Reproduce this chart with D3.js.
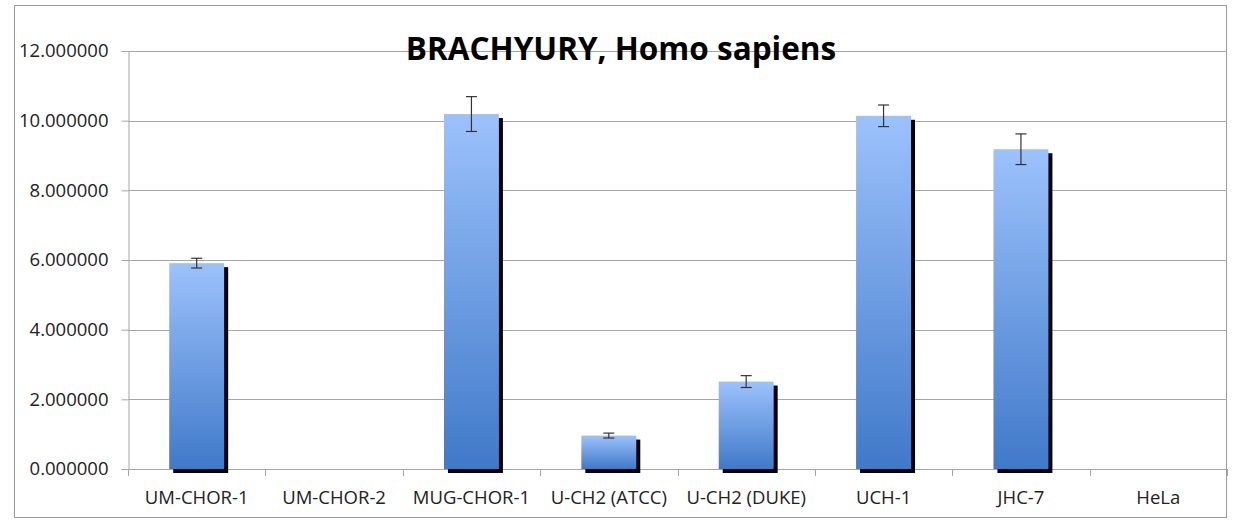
<!DOCTYPE html>
<html>
<head>
<meta charset="utf-8">
<script src="https://cdn.jsdelivr.net/npm/d3@7"></script>
<style>
  body { margin: 0; background: #fff; }
  text { font-family: "Open Sans", sans-serif; fill: #222; }
</style>
</head>
<body>
<div class="chart"></div>
<script>
// DATA
var categories = ['UM-CHOR-1', 'UM-CHOR-2', 'MUG-CHOR-1', 'U-CH2 (ATCC)', 'U-CH2 (DUKE)', 'UCH-1', 'JHC-7', 'HeLa']
var values = [5.91, 0, 10.19, 0.96, 2.51, 10.14, 9.18, 0]
var errors = [0.14, 0, 0.50, 0.07, 0.17, 0.31, 0.44, 0]
var yTicks = [0, 2, 4, 6, 8, 10, 12]
var title = 'BRACHYURY, Homo sapiens'

var W = 1233, H = 521

var svg = d3.select('.chart').append('svg')
    .attr('width', W)
    .attr('height', H)

// GRADIENT FOR BARS
var grad = svg.append('defs').append('linearGradient')
    .attr('id', 'barGrad')
    .attr('x1', 0).attr('y1', 0).attr('x2', 0).attr('y2', 1)
grad.append('stop').attr('offset', '0%').attr('stop-color', '#9cc2fc')
grad.append('stop').attr('offset', '100%').attr('stop-color', '#4079c9')

// OUTER BORDER
svg.append('rect')
    .attr('x', 14.5).attr('y', 5.5)
    .attr('width', 1212).attr('height', 512)
    .attr('fill', 'none')
    .attr('stroke', '#9a9a9a')

var x = d3.scaleBand()
    .domain(categories)
    .range([128, 1227])
    .paddingInner(0.6)
    .paddingOuter(0.3)

var y = d3.scaleLinear()
    .domain([0, 12])
    .range([469, 51])

var data = categories.map(function(c, i){ return {cat: c, val: values[i], err: errors[i]} })

// GRIDLINES
svg.append('g').selectAll('line')
    .data(yTicks.filter(function(t){ return t > 0 }))
    .enter().append('line')
    .attr('x1', 128).attr('x2', 1227)
    .attr('y1', function(d){ return Math.round(y(d)) + 0.5 })
    .attr('y2', function(d){ return Math.round(y(d)) + 0.5 })
    .attr('stroke', '#a6a6a6')

// TITLE (drawn over the top gridline)
svg.append('text')
    .attr('x', 621).attr('y', 60)
    .attr('text-anchor', 'middle')
    .style('font-size', '31.5px')
    .style('font-weight', 'bold')
    .style('fill', '#000')
    .text(title)

// Y AXIS
var yAxis = svg.append('g')
    .attr('transform', 'translate(128.5,0)')
    .call(d3.axisLeft(y).tickValues(yTicks).tickSize(7).tickPadding(13)
        .tickFormat(function(d){ return d3.format('.6f')(d) }))
yAxis.select('.domain').attr('stroke', '#a6a6a6')
yAxis.selectAll('.tick line').attr('stroke', '#a6a6a6')
yAxis.selectAll('.tick text')
    .style('font-size', '18.5px')
    .style('font-family', '"Open Sans", sans-serif')
    .attr('fill', '#222')

// X AXIS (ticks at band boundaries)
var bounds = categories.map(function(c){ return x(c) - x.step() * x.paddingOuter() })
bounds.push(1227)
var xg = svg.append('g')
xg.append('line')
    .attr('x1', 128).attr('x2', 1227)
    .attr('y1', 469.5).attr('y2', 469.5)
    .attr('stroke', '#a6a6a6')
xg.selectAll('line.tk')
    .data(bounds)
    .enter().append('line')
    .attr('class', 'tk')
    .attr('x1', function(d){ return Math.round(d) + 0.5 })
    .attr('x2', function(d){ return Math.round(d) + 0.5 })
    .attr('y1', 469).attr('y2', 476)
    .attr('stroke', '#a6a6a6')
xg.selectAll('text')
    .data(categories)
    .enter().append('text')
    .attr('x', function(d){ return x(d) + x.bandwidth() / 2 })
    .attr('y', 504)
    .attr('text-anchor', 'middle')
    .style('font-size', '18.5px')
    .text(function(d){ return d })

// BARS
var bars = svg.append('g').selectAll('g')
    .data(data.filter(function(d){ return d.val > 0 }))
    .enter().append('g')

// shadow
bars.append('rect')
    .attr('x', function(d){ return x(d.cat) + 4 })
    .attr('y', function(d){ return y(d.val) + 4 })
    .attr('width', x.bandwidth())
    .attr('height', function(d){ return y(0) - y(d.val) })
    .attr('fill', '#000')

bars.append('rect')
    .attr('x', function(d){ return x(d.cat) })
    .attr('y', function(d){ return y(d.val) })
    .attr('width', x.bandwidth())
    .attr('height', function(d){ return y(0) - y(d.val) })
    .attr('fill', 'url(#barGrad)')

// ERROR BARS
var eb = svg.append('g').selectAll('g')
    .data(data.filter(function(d){ return d.err > 0 }))
    .enter().append('g')
    .attr('stroke', '#333')
    .attr('stroke-width', 1.2)
eb.append('line')
    .attr('x1', function(d){ return x(d.cat) + x.bandwidth() / 2 })
    .attr('x2', function(d){ return x(d.cat) + x.bandwidth() / 2 })
    .attr('y1', function(d){ return y(d.val + d.err) })
    .attr('y2', function(d){ return y(d.val - d.err) })
eb.selectAll('line.cap')
    .data(function(d){ return [d.val + d.err, d.val - d.err].map(function(v){ return {cat: d.cat, v: v} }) })
    .enter().append('line')
    .attr('class', 'cap')
    .attr('x1', function(d){ return x(d.cat) + x.bandwidth() / 2 - 5.5 })
    .attr('x2', function(d){ return x(d.cat) + x.bandwidth() / 2 + 5.5 })
    .attr('y1', function(d){ return y(d.v) })
    .attr('y2', function(d){ return y(d.v) })
</script>
</body>
</html>
